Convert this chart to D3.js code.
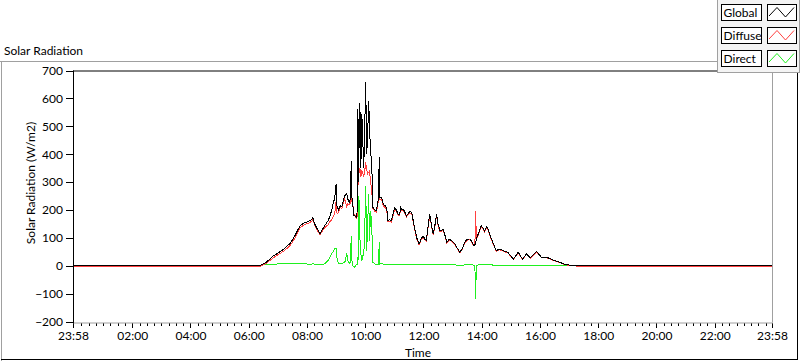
<!DOCTYPE html>
<html><head><meta charset="utf-8">
<script src="https://cdn.jsdelivr.net/npm/d3@7"></script>
<style>
body{margin:0;background:#fff}
svg{display:block}
text{font-family:Lato,"Liberation Sans",sans-serif;font-size:12px;fill:#000}
</style>
</head><body>
<svg id="chart" width="800" height="361"></svg>
<script>
// ---------- data ----------
const times = ["23:58","06:15","06:23","06:29","06:37","06:44","06:50","06:57","07:04","07:14","07:20","07:25","07:30","07:35","07:41","07:46","07:51","07:56","08:02","08:07","08:10","08:12","08:16","08:21","08:27","08:32","08:37","08:43","08:47","08:51","08:54","08:57","09:00","09:02","09:05","09:08","09:12","09:15","09:18","09:22","09:24","09:27","09:30","09:31","09:33","09:35","09:37","09:39","09:41","09:43","09:45","09:46","09:47","09:49","09:51","09:53","09:55","09:57","09:59","10:01","10:03","10:05","10:07","10:09","10:11","10:13","10:16","10:20","10:23","10:27","10:29","10:30","10:34","10:37","10:41","10:44","10:47","10:50","10:54","10:58","11:01","11:04","11:08","11:11","11:13","11:16","11:18","11:21","11:25","11:28","11:32","11:36","11:40","11:46","11:51","11:55","11:59","12:03","12:06","12:10","12:13","12:17","12:20","12:24","12:27","12:30","12:34","12:41","12:48","12:53","12:58","13:05","13:10","13:15","13:20","13:25","13:30","13:36","13:40","13:44","13:46","13:47","13:48","13:50","13:55","13:59","14:03","14:06","14:10","14:13","14:20","14:25","14:30","14:37","14:44","14:54","15:00","15:05","15:10","15:15","15:20","15:24","15:32","15:40","15:47","15:53","16:03","16:10","16:17","16:25","16:31","16:41","16:50","16:58","17:10","17:20","17:40","23:58"];
const globalRad = [0,0,1,5,14,24,34,42,50,62,72,80,92,107,128,143,150,155,158,162,166,172,150,132,115,130,145,160,175,200,225,240,294,209,200,215,212,235,251,258,240,228,240,376,230,210,178,179,175,173,563,300,400,585,352,545,450,352,500,659,400,460,591,500,401,388,209,200,197,240,390,245,245,221,215,209,161,165,161,190,209,200,185,185,209,200,203,195,179,185,195,191,150,101,78,95,107,95,90,150,185,140,113,150,185,150,125,131,84,95,90,78,62,48,62,84,95,96,85,72,75,79,88,100,125,143,135,125,140,131,96,75,54,60,54,48,35,24,35,48,35,24,42,28,40,51,30,30,28,22,18,12,6,3,1,0,0,0];
const diffuseRad = [-3,-3,-2,2,10,19,28,36,43,55,64,72,84,99,120,136,143,148,152,156,160,165,144,127,112,126,137,146,157,165,175,185,232,185,192,209,205,225,239,212,222,220,225,270,222,212,183,183,172,170,300,290,330,350,320,340,330,320,340,370,345,330,335,340,300,280,203,195,191,232,240,238,237,215,208,203,157,160,157,185,203,195,181,181,204,196,198,190,175,181,190,186,146,97,75,92,103,92,87,146,180,136,110,146,180,146,121,128,81,92,87,75,60,46,60,81,92,93,82,70,73,197,150,97,121,139,131,121,136,127,93,72,52,58,52,46,33,23,33,46,33,23,40,27,38,49,29,29,27,21,17,11,5,2,0,-2,-3,-3];
const directRad = [0,0,1,3,4,5,6,6,7,7,8,8,8,8,8,7,7,7,6,6,6,7,6,5,3,4,8,18,30,43,50,60,62,25,8,6,7,10,12,46,18,8,15,106,6,-2,-5,-4,3,3,30,20,251,100,43,18,36,36,125,287,54,140,258,90,197,161,12,6,6,6,84,6,8,6,5,5,4,4,4,4,5,4,4,4,5,4,5,4,3,4,4,4,3,3,3,3,3,3,3,3,4,3,3,3,4,3,3,3,3,3,3,3,2,2,2,3,3,3,3,2,2,-118,-60,2,3,3,3,3,3,3,3,2,2,2,2,2,2,1,2,2,2,1,2,1,2,2,1,1,1,1,1,1,1,1,0,0,0,0];
const yTickValues = [700,600,500,400,300,200,100,0,-100,-200];
const xTickLabels = ["23:58","02:00","04:00","06:00","08:00","10:00","12:00","14:00","16:00","18:00","20:00","22:00","23:58"];
const seriesNames = ["Global","Diffuse","Direct"];
const seriesColors = ["#000000","#ff4040","#1ff01f"];
const chartTitle = "Solar Radiation";
const yTitle = "Solar Radiation (W/m2)";
const xTitle = "Time";

// ---------- helpers ----------
function toMin(s, i){
  const [h,m] = s.split(":").map(Number);
  let v = h*60+m;
  if (i===0 && v>720) v -= 1440;
  return v;
}
const tMin = times.map(toMin);
const xMajor = xTickLabels.map(toMin);

const L=73, R=772, T=70.5, B=321.5;
const x = d3.scaleLinear().domain([-2,1438]).range([L,R]);
const y = d3.scaleLinear().domain([-200,700]).range([B,T]);

const svg = d3.select("#chart");

// outer frame
svg.append("line").attr("x1",0).attr("x2",718).attr("y1",61.5).attr("y2",61.5).attr("stroke","#a0a0a0");
svg.append("line").attr("x1",1.5).attr("x2",1.5).attr("y1",61.5).attr("y2",361).attr("stroke","#a0a0a0");
svg.append("line").attr("x1",1).attr("x2",798).attr("y1",359.5).attr("y2",359.5).attr("stroke","#000");
svg.append("line").attr("x1",797.5).attr("x2",797.5).attr("y1",72).attr("y2",360).attr("stroke","#000");

svg.append("text").attr("x",4).attr("y",55).text(chartTitle);

// plot frame
svg.append("rect").attr("x",L).attr("y",T).attr("width",R-L).attr("height",B-T).attr("fill","#fff");
svg.append("line").attr("x1",R+0.5).attr("x2",R+0.5).attr("y1",T).attr("y2",B+1).attr("stroke","#a0a0a0");

// clip
svg.append("clipPath").attr("id","clip").append("rect").attr("x",L).attr("y",T).attr("width",R-L+1).attr("height",B-T+1);

const series = [directRad, diffuseRad, globalRad];
const colors = [seriesColors[2], seriesColors[1], seriesColors[0]];
const g = svg.append("g").attr("clip-path","url(#clip)");
series.forEach((vals,k)=>{
  const line = d3.line().x((d,i)=>x(tMin[i])).y(d=>y(d));
  g.append("path").datum(vals).attr("d",line).attr("fill","none")
   .attr("stroke",colors[k]).attr("stroke-width",1).attr("shape-rendering","crispEdges");
});

// axes
const yAxis = svg.append("g").attr("transform",`translate(${L},0)`)
  .call(d3.axisLeft(y).tickValues(yTickValues).tickSize(7).tickPadding(3).tickFormat(d3.format("d")));
yAxis.select(".domain").remove();

// minor x ticks every 15 minutes
const minor = d3.range(0,1440,15).filter(m=>m%120!==0);
const xMinor = svg.append("g").attr("transform",`translate(0,${B+1})`)
  .call(d3.axisBottom(x).tickValues(minor).tickSize(3).tickFormat(""));
xMinor.select(".domain").remove();

const xAxis = svg.append("g").attr("transform",`translate(0,${B+1})`)
  .call(d3.axisBottom(x).tickValues(xMajor).tickSize(5).tickPadding(4).tickFormat((d,i)=>xTickLabels[i]));
xAxis.select(".domain").remove();

svg.selectAll(".tick line").attr("shape-rendering","crispEdges");
svg.selectAll("g").attr("font-family",null).attr("font-size",null);

// frame lines on top
svg.append("line").attr("x1",L).attr("x2",R+1).attr("y1",B+1.5).attr("y2",B+1.5).attr("stroke","#a0a0a0");
svg.append("line").attr("x1",L+0.5).attr("x2",L+0.5).attr("y1",T).attr("y2",B+2).attr("stroke","#000");
svg.append("line").attr("x1",L).attr("x2",R+1).attr("y1",T+0.5).attr("y2",T+0.5).attr("stroke","#000");

// titles
svg.append("text").attr("transform","translate(35,183) rotate(-90)").attr("text-anchor","middle").text(yTitle);
svg.append("text").attr("x",418).attr("y",357).attr("text-anchor","middle").text(xTitle);

// legend
const leg = svg.append("g");
leg.append("rect").attr("x",717.5).attr("y",-1).attr("width",82).attr("height",73.5).attr("fill","#f4f4f4").attr("stroke","#a0a0a0");
seriesNames.forEach((name,i)=>{
  const ry = 4 + i*23;
  leg.append("rect").attr("x",721.5).attr("y",ry+0.5).attr("width",40).attr("height",16).attr("fill","#fff").attr("stroke","#000");
  leg.append("text").attr("x",723.5).attr("y",ry+13).text(name);
  leg.append("rect").attr("x",767.5).attr("y",ry+0.5).attr("width",29).attr("height",16).attr("fill","#fff").attr("stroke","#000");
  leg.append("path").attr("d",`M${769},${ry+12} L${777},${ry+3.5} L${785.5},${ry+13} L${794},${ry+3.5}`)
    .attr("fill","none").attr("stroke",seriesColors[i]).attr("stroke-width",1);
});
</script>
</body></html>
